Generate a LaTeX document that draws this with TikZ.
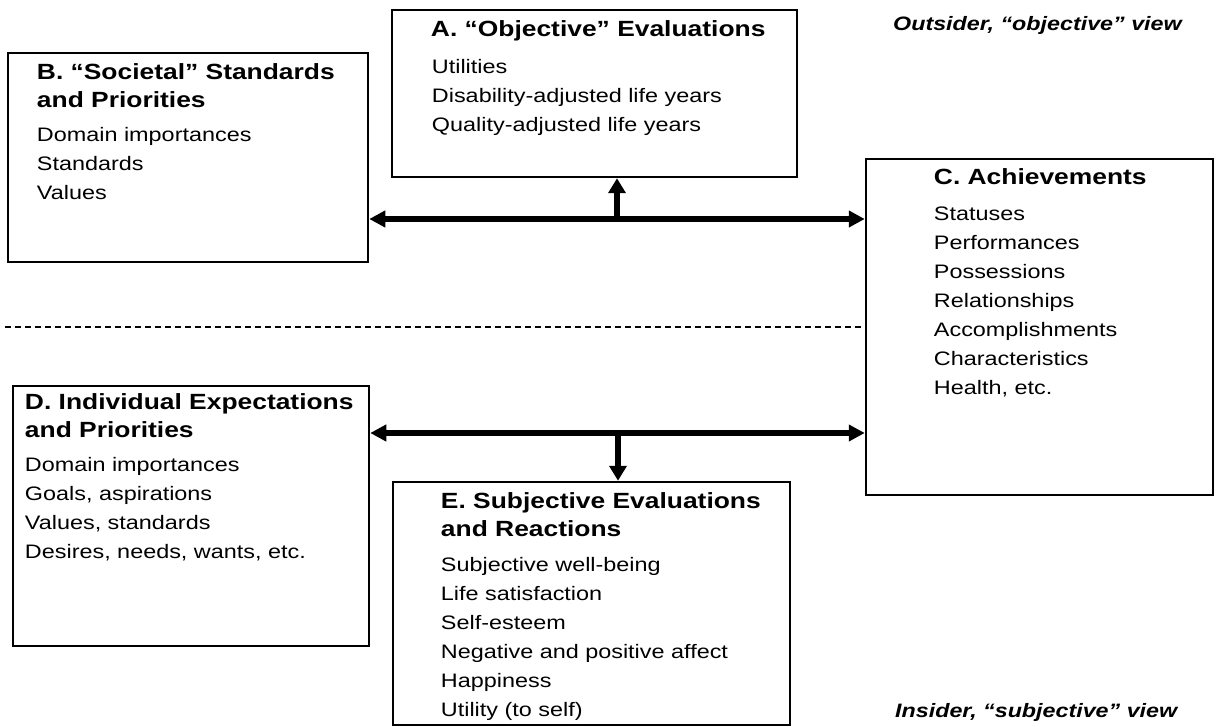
\documentclass[tikz,border=0pt]{standalone}
\usepackage{fontspec}
\setmainfont{Liberation Sans}[FakeStretch=1.2]
\usetikzlibrary{positioning, arrows.meta}

\begin{document}
\begin{tikzpicture}[x=1pt, y=-1pt]
    % Define styles
    \tikzstyle{panel} = [rectangle, draw, line width=2.5pt, inner sep=0pt]
    \tikzstyle{head} = [anchor=north west, inner sep=0pt, align=left,
        font=\bfseries\fontsize{22}{27.5}\selectfont]
    \tikzstyle{list} = [anchor=north west, inner sep=0pt, align=left,
        font=\fontsize{19.5}{29}\selectfont]
    \tikzstyle{view} = [anchor=west, inner sep=0pt,
        font=\bfseries\itshape\fontsize{19.4}{23}\selectfont]
    \tikzstyle{link} = [draw, line width=5.5pt, -{Triangle[length=15pt,width=17pt]}]
    \tikzstyle{dblink} = [draw, line width=5.5pt,
        {Triangle[length=16pt,width=16pt]}-{Triangle[length=16pt,width=16pt]}]
    \tikzstyle{divider} = [draw, line width=1.5pt, dash pattern=on 6pt off 4pt]

    \useasboundingbox (0,0) rectangle (1217,727);

    % Place boxes
    \node [panel, minimum width=405pt, minimum height=167pt] (objective) at (594.5,93.5) {};
    \node [head] (objective_head) at ([xshift=40pt, yshift=-12pt]objective.north west) {A. “Objective” Evaluations};
    \node [list] (objective_list) at ([xshift=41pt, yshift=-50pt]objective.north west)
        {Utilities\\Disability-adjusted life years\\Quality-adjusted life years};

    \node [panel, minimum width=360pt, minimum height=209pt] (societal) at (188,157.5) {};
    \node [head] (societal_head) at ([xshift=30pt, yshift=-12pt]societal.north west) {B. “Societal” Standards\\and Priorities};
    \node [list] (societal_list) at ([xshift=30pt, yshift=-75pt]societal.north west)
        {Domain importances\\Standards\\Values};

    \node [panel, minimum width=347pt, minimum height=336pt] (achieve) at (1039.5,327) {};
    \node [head] (achieve_head) at ([xshift=69pt, yshift=-11pt]achieve.north west) {C. Achievements};
    \node [list] (achieve_list) at ([xshift=69pt, yshift=-49pt]achieve.north west)
        {Statuses\\Performances\\Possessions\\Relationships\\Accomplishments\\Characteristics\\Health, etc.};

    \node [panel, minimum width=356pt, minimum height=260pt] (individual) at (191,516) {};
    \node [head] (individual_head) at ([xshift=13pt, yshift=-9pt]individual.north west) {D. Individual Expectations\\and Priorities};
    \node [list] (individual_list) at ([xshift=13pt, yshift=-72pt]individual.north west)
        {Domain importances\\Goals, aspirations\\Values, standards\\Desires, needs, wants, etc.};

    \node [panel, minimum width=397pt, minimum height=243pt] (subjective) at (591.5,603.5) {};
    \node [head] (subjective_head) at ([xshift=49pt, yshift=-12pt]subjective.north west) {E. Subjective Evaluations\\and Reactions};
    \node [list] (subjective_list) at ([xshift=49pt, yshift=-76pt]subjective.north west)
        {Subjective well-being\\Life satisfaction\\Self-esteem\\Negative and positive affect\\Happiness\\Utility (to self)};

    % Views
    \node [view] (outsider) at (893,25) {Outsider, “objective” view};
    \node [view] (insider) at (895,712) {Insider, “subjective” view};

    % Draw edges
    \coordinate (jtop) at (617,219);
    \coordinate (jbot) at (618,433);
    \coordinate (sepleft) at (5,327);
    \path [dblink] (societal.east |- jtop) -- (achieve.west |- jtop);
    \path [link] (jtop) -- (jtop |- objective.south);
    \path [dblink] (individual.east |- jbot) -- (achieve.west |- jbot);
    \path [link] (jbot) -- (jbot |- subjective.north);

    % Outsider / insider split
    \path [divider] (sepleft) -- (achieve.west |- sepleft);
\end{tikzpicture}
\end{document}
